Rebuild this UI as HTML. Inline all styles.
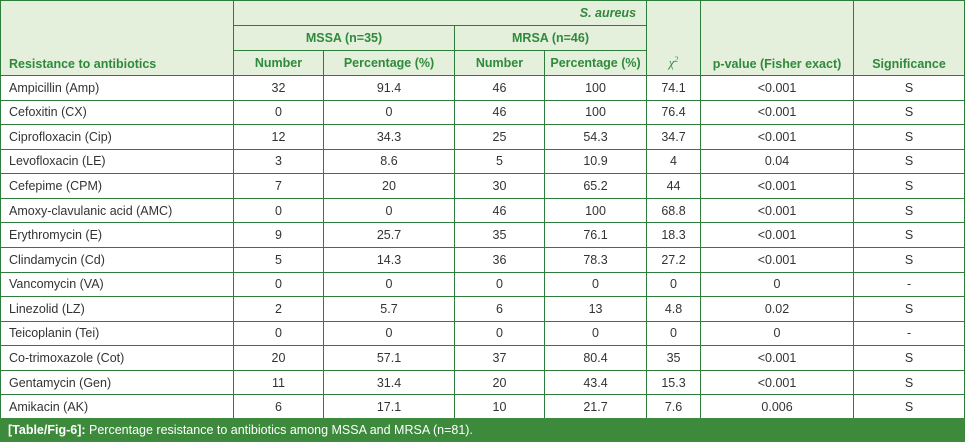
<!DOCTYPE html>
<html><head><meta charset="utf-8"><style>
body{margin:0;width:965px;height:442px;background:#fff;overflow:hidden;font-family:"Liberation Sans",sans-serif;}
table{position:absolute;left:0;top:0;border-collapse:collapse;table-layout:fixed;width:964px;}
td{border:1px solid #2f7d3a;font-size:12.5px;color:#333;text-align:center;padding:0;height:23.57px;white-space:nowrap;}
td.l{text-align:left;padding-left:8px;}
tr.h td{background:#e4efdc;color:#2f8a3c;font-weight:bold;height:24px;}
.cap{position:absolute;left:0;top:418px;width:965px;height:24px;background:#3d8a3c;color:#fff;font-size:12.5px;line-height:24px;padding-left:8px;box-sizing:border-box;}
</style></head><body>
<table>
<colgroup><col style="width:233px"><col style="width:90px"><col style="width:131px"><col style="width:90px"><col style="width:102px"><col style="width:54px"><col style="width:153px"><col style="width:111px"></colgroup>
<tr class="h"><td class="l" rowspan="3" style="vertical-align:bottom;padding-bottom:4px">Resistance to antibiotics</td><td colspan="4" style="text-align:right;padding-right:10px;font-style:italic">S. aureus</td><td rowspan="3" style="vertical-align:bottom;padding-bottom:4px;font-weight:normal;font-style:italic;font-family:'Liberation Serif',serif">χ<sup style="font-size:8px">2</sup></td><td rowspan="3" style="vertical-align:bottom;padding-bottom:4px">p-value (Fisher exact)</td><td rowspan="3" style="vertical-align:bottom;padding-bottom:4px">Significance</td></tr>
<tr class="h"><td colspan="2">MSSA (n=35)</td><td colspan="2">MRSA (n=46)</td></tr>
<tr class="h"><td>Number</td><td>Percentage (%)</td><td>Number</td><td>Percentage (%)</td></tr>
<tr><td class="l">Ampicillin (Amp)</td><td>32</td><td>91.4</td><td>46</td><td>100</td><td>74.1</td><td>&lt;0.001</td><td>S</td></tr>
<tr><td class="l">Cefoxitin (CX)</td><td>0</td><td>0</td><td>46</td><td>100</td><td>76.4</td><td>&lt;0.001</td><td>S</td></tr>
<tr><td class="l">Ciprofloxacin (Cip)</td><td>12</td><td>34.3</td><td>25</td><td>54.3</td><td>34.7</td><td>&lt;0.001</td><td>S</td></tr>
<tr><td class="l">Levofloxacin (LE)</td><td>3</td><td>8.6</td><td>5</td><td>10.9</td><td>4</td><td>0.04</td><td>S</td></tr>
<tr><td class="l">Cefepime (CPM)</td><td>7</td><td>20</td><td>30</td><td>65.2</td><td>44</td><td>&lt;0.001</td><td>S</td></tr>
<tr><td class="l">Amoxy-clavulanic acid (AMC)</td><td>0</td><td>0</td><td>46</td><td>100</td><td>68.8</td><td>&lt;0.001</td><td>S</td></tr>
<tr><td class="l">Erythromycin (E)</td><td>9</td><td>25.7</td><td>35</td><td>76.1</td><td>18.3</td><td>&lt;0.001</td><td>S</td></tr>
<tr><td class="l">Clindamycin (Cd)</td><td>5</td><td>14.3</td><td>36</td><td>78.3</td><td>27.2</td><td>&lt;0.001</td><td>S</td></tr>
<tr><td class="l">Vancomycin (VA)</td><td>0</td><td>0</td><td>0</td><td>0</td><td>0</td><td>0</td><td>-</td></tr>
<tr><td class="l">Linezolid (LZ)</td><td>2</td><td>5.7</td><td>6</td><td>13</td><td>4.8</td><td>0.02</td><td>S</td></tr>
<tr><td class="l">Teicoplanin (Tei)</td><td>0</td><td>0</td><td>0</td><td>0</td><td>0</td><td>0</td><td>-</td></tr>
<tr><td class="l">Co-trimoxazole (Cot)</td><td>20</td><td>57.1</td><td>37</td><td>80.4</td><td>35</td><td>&lt;0.001</td><td>S</td></tr>
<tr><td class="l">Gentamycin (Gen)</td><td>11</td><td>31.4</td><td>20</td><td>43.4</td><td>15.3</td><td>&lt;0.001</td><td>S</td></tr>
<tr><td class="l">Amikacin (AK)</td><td>6</td><td>17.1</td><td>10</td><td>21.7</td><td>7.6</td><td>0.006</td><td>S</td></tr>
</table>
<div class="cap"><b>[Table/Fig-6]:</b> Percentage resistance to antibiotics among MSSA and MRSA (n=81).</div>
</body></html>
